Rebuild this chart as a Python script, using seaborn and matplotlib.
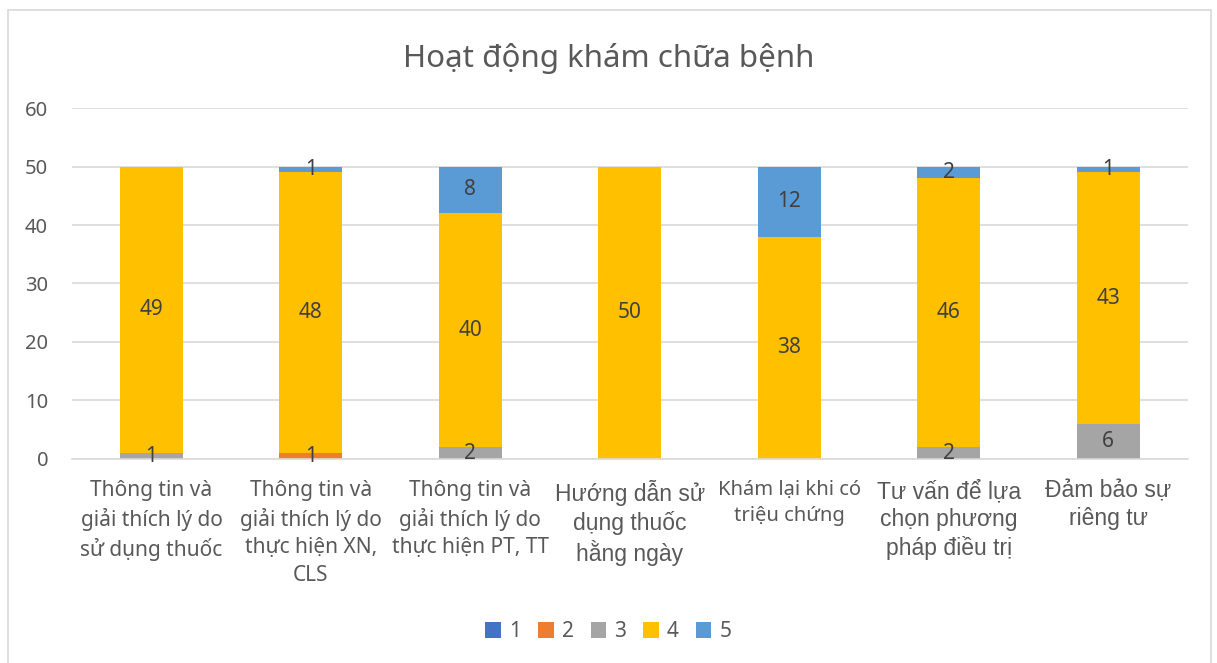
import numpy as np
import pandas as pd
import seaborn as sns
from matplotlib import pyplot as plt
from matplotlib.patches import Patch, Rectangle

# Data
categories = [
    'Thông tin và\ngiải thích lý do\nsử dụng thuốc',
    'Thông tin và\ngiải thích lý do\nthực hiện XN,\nCLS',
    'Thông tin và\ngiải thích lý do\nthực hiện PT, TT',
    'Hướng dẫn sử\ndụng thuốc\nhằng ngày',
    'Khám lại khi có\ntriệu chứng',
    'Tư vấn để lựa\nchọn phương\npháp điều trị',
    'Đảm bảo sự\nriêng tư',
]
series_names = ['1', '2', '3', '4', '5']
s1 = [0, 0, 0, 0, 0, 0, 0]
s2 = [0, 1, 0, 0, 0, 0, 0]
s3 = [1, 0, 2, 0, 0, 2, 6]
s4 = [49, 48, 40, 50, 38, 46, 43]
s5 = [0, 1, 8, 0, 12, 2, 1]
series_values = [s1, s2, s3, s4, s5]
colors = ['#4472C4', '#ED7D31', '#A5A5A5', '#FFC000', '#5B9BD5']

text_color = '#595959'
grid_color = '#D9D9D9'

sns.set_style('white')
plt.rcParams['font.family'] = ['Noto Sans', 'DejaVu Sans']

fig = plt.figure(figsize=(12.17, 6.63), dpi=100)
ax = fig.add_axes([0.059, 0.3077, 0.917, 0.5294])

bottom = np.zeros(len(categories))
for name, vals, col in zip(series_names, series_values, colors):
    df = pd.DataFrame({'cat': categories, 'value': vals})
    sns.barplot(data=df, x='cat', y='value', color=col, width=0.395,
                bottom=bottom.copy(), ax=ax, linewidth=0, saturation=1,
                errorbar=None)
    bottom += np.array(vals)

for cont, vals in zip(ax.containers, series_values):
    labels = [str(v) if v else '' for v in vals]
    ax.bar_label(cont, labels=labels, label_type='center',
                 fontsize=15, color='#404040')

ax.set_ylim(0, 60)
ax.set_xlim(-0.5, len(categories) - 0.5)
ax.set_yticks(range(0, 61, 10))
ax.yaxis.grid(True, color=grid_color, linewidth=1.2)
ax.set_axisbelow(True)
for side in ['top', 'right', 'left']:
    ax.spines[side].set_visible(False)
ax.spines['bottom'].set_color(grid_color)
ax.spines['bottom'].set_linewidth(1.2)
ax.set_xlabel('')
ax.set_ylabel('')
ax.tick_params(axis='both', length=0, colors=text_color)
ax.tick_params(axis='y', labelsize=14.5, pad=17)
ax.tick_params(axis='x', labelsize=15, pad=15)
ax.set_xticks(range(len(categories)))
ax.set_xticklabels(categories, linespacing=1.4)

# label fonts differ slightly in the original
for i, lab in enumerate(ax.get_xticklabels()):
    if i in (3, 5, 6):
        lab.set_family(['Liberation Sans', 'DejaVu Sans'])
        lab.set_fontsize(16.5)
        lab.set_linespacing(1.25)
    elif i == 4:
        lab.set_fontsize(14.5)

fig.suptitle('Hoạt động khám chữa bệnh', y=0.935, fontsize=22.5,
             color=text_color)

handles = [Patch(facecolor=c, edgecolor='none') for c in colors]
fig.legend(handles, series_names, loc='center', bbox_to_anchor=(0.5, 0.047),
           ncol=5, frameon=False, fontsize=15, handlelength=0.75,
           handleheight=0.75, handletextpad=0.4, columnspacing=0.8,
           labelcolor=text_color)

# outer chart border
fig.patches.append(Rectangle((8 / 1217, -0.02), 1203 / 1217, 1.005,
                             transform=fig.transFigure, fill=False,
                             edgecolor=grid_color, linewidth=1.2))

fig.savefig('out.png', dpi=100)
